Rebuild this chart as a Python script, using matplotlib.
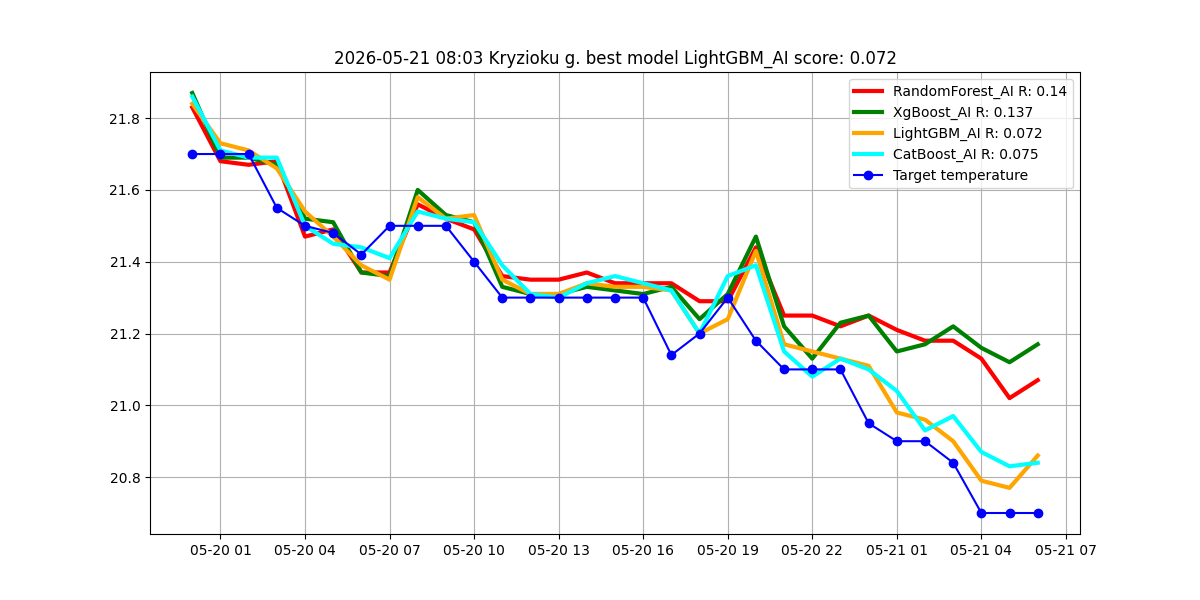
import matplotlib
matplotlib.use("Agg")
import matplotlib.pyplot as plt
import matplotlib.dates as mdates
import pandas as pd

times = pd.date_range("2026-05-20 00:00", periods=31, freq="h")

target = [21.7, 21.7, 21.7, 21.55, 21.5, 21.48, 21.42, 21.5, 21.5, 21.5, 21.4, 21.3, 21.3, 21.3, 21.3, 21.3,
          21.3, 21.14, 21.2, 21.3, 21.18, 21.1, 21.1, 21.1, 20.95, 20.9, 20.9, 20.84, 20.7, 20.7, 20.7]
rf = [21.83, 21.68, 21.67, 21.68, 21.47, 21.49, 21.37, 21.37, 21.56, 21.52, 21.49, 21.36, 21.35, 21.35, 21.37, 21.34,
      21.34, 21.34, 21.29, 21.29, 21.44, 21.25, 21.25, 21.22, 21.25, 21.21, 21.18, 21.18, 21.13, 21.02, 21.07]
xgb = [21.87, 21.69, 21.69, 21.67, 21.52, 21.51, 21.37, 21.36, 21.6, 21.53, 21.51, 21.33, 21.31, 21.31, 21.33, 21.32,
       21.31, 21.33, 21.24, 21.31, 21.47, 21.22, 21.13, 21.23, 21.25, 21.15, 21.17, 21.22, 21.16, 21.12, 21.17]
lgb = [21.84, 21.73, 21.71, 21.66, 21.54, 21.47, 21.39, 21.35, 21.58, 21.52, 21.53, 21.35, 21.31, 21.31, 21.34, 21.33,
       21.33, 21.32, 21.2, 21.24, 21.43, 21.17, 21.15, 21.13, 21.11, 20.98, 20.96, 20.9, 20.79, 20.77, 20.86]
cat = [21.86, 21.71, 21.69, 21.69, 21.5, 21.45, 21.44, 21.41, 21.54, 21.52, 21.51, 21.39, 21.31, 21.3, 21.34, 21.36,
       21.34, 21.32, 21.2, 21.36, 21.39, 21.15, 21.08, 21.13, 21.1, 21.04, 20.93, 20.97, 20.87, 20.83, 20.84]

fig, ax = plt.subplots(figsize=(12, 6), dpi=100)
ax.plot(times, rf, color="red", lw=3, label="RandomForest_AI R: 0.14")
ax.plot(times, xgb, color="green", lw=3, label="XgBoost_AI R: 0.137")
ax.plot(times, lgb, color="orange", lw=3, label="LightGBM_AI R: 0.072")
ax.plot(times, cat, color="cyan", lw=3, label="CatBoost_AI R: 0.075")
ax.plot(times, target, color="blue", marker="o", label="Target temperature")
ax.xaxis.set_major_locator(mdates.HourLocator(interval=3))
ax.xaxis.set_major_formatter(mdates.DateFormatter("%m-%d %H"))
ax.grid(True)
ax.legend(loc="upper right")
ax.set_title("2026-05-21 08:03 Kryzioku g. best model LightGBM_AI score: 0.072")
plt.savefig("out.png")
